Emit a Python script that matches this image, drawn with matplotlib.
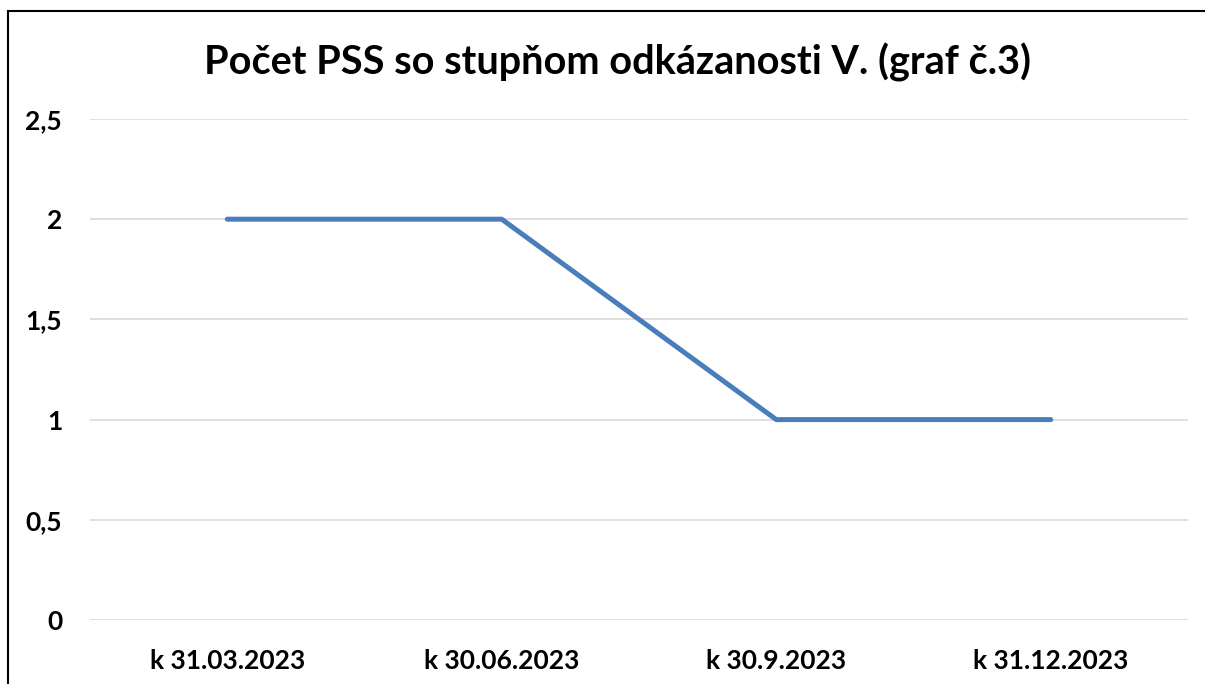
import matplotlib.pyplot as plt
from matplotlib.lines import Line2D
from matplotlib.ticker import FuncFormatter

categories = ['k 31.03.2023', 'k 30.06.2023', 'k 30.9.2023', 'k 31.12.2023']
values = [2, 2, 1, 1]
title = 'Počet PSS so stupňom odkázanosti V. (graf č.3)'

plt.rcParams['font.family'] = ['Lato', 'DejaVu Sans']

W, H = 1205, 684
fig = plt.figure(figsize=(W / 100, H / 100), dpi=100)
ax = fig.add_axes([90 / W, 1 - 620 / H, (1188 - 90) / W, (620 - 119) / H])

x = list(range(len(categories)))
ax.plot(x, values, color='#4A7EBB', linewidth=3.6, solid_capstyle='round', zorder=3)

ax.set_xlim(-0.5, len(categories) - 0.5)
ax.set_ylim(0, 2.5)
ax.set_yticks([0, 0.5, 1, 1.5, 2, 2.5])
ax.yaxis.set_major_formatter(FuncFormatter(lambda v, p: f'{v:g}'.replace('.', ',')))
ax.set_xticks(x)
ax.set_xticklabels(categories)

for s in ax.spines.values():
    s.set_visible(False)
ax.grid(axis='y', color='#D9D9D9', linewidth=1.2)
ax.set_axisbelow(True)
ax.tick_params(length=0)
ax.tick_params(axis='y', pad=20, labelsize=19)
ax.tick_params(axis='x', pad=21, labelsize=19)
for lab in ax.get_xticklabels() + ax.get_yticklabels():
    lab.set_fontweight('bold')

fig.text(617 / W, 1 - 62 / H, title, ha='center', va='center',
         fontsize=28.5, fontweight='bold')

# chart border, only left and top edges show in the crop
bx, by = 8 / W, 1 - 11 / H
fig.lines.append(Line2D([bx, bx, 1.1], [-0.1, by, by], transform=fig.transFigure,
                        color='black', linewidth=1.5, solid_joinstyle='miter'))

fig.savefig('out.png', dpi=100)
